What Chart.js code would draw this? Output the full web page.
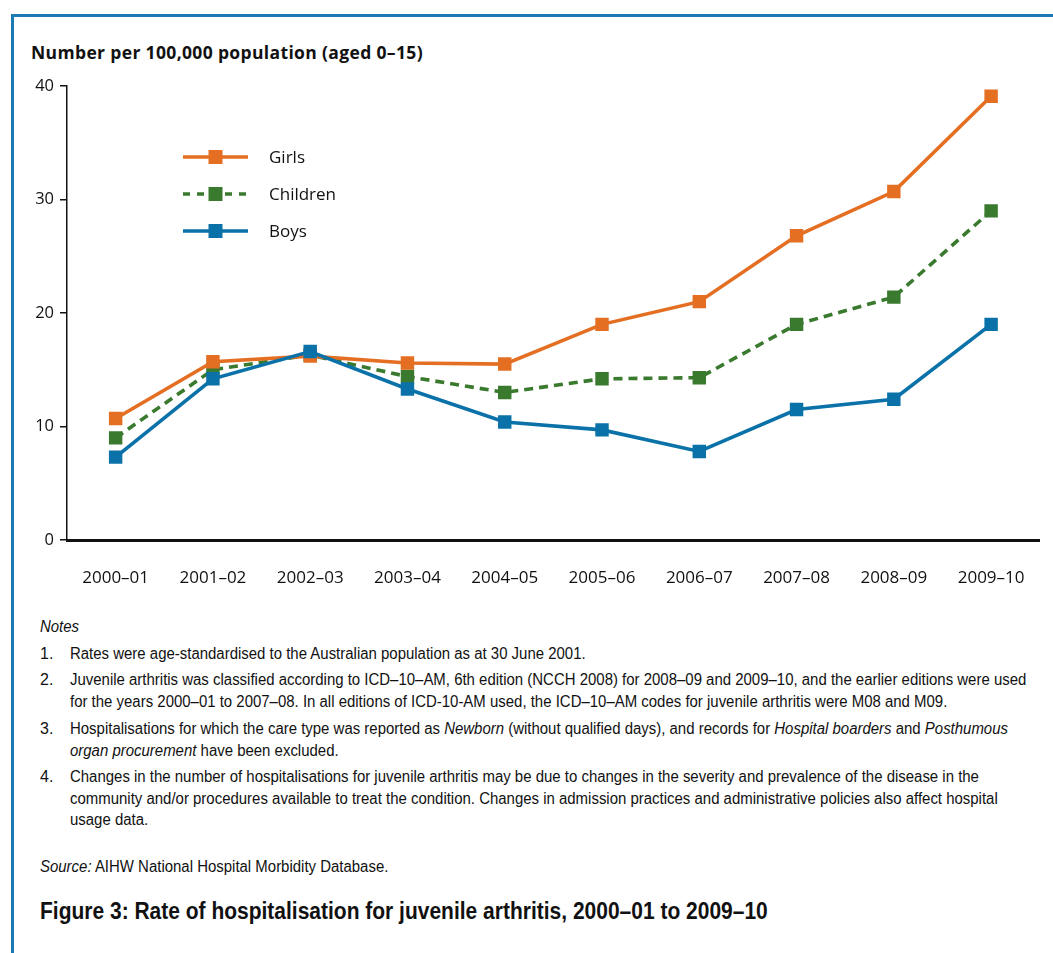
<!DOCTYPE html>
<html><head><meta charset="utf-8">
<script src="https://cdn.jsdelivr.net/npm/chart.js@4"></script>
<style>
html,body{margin:0;padding:0;background:#fff;}
body{width:1053px;height:953px;position:relative;overflow:hidden;font-family:"Liberation Sans",sans-serif;color:#111;}
#frame{position:absolute;left:11px;top:14px;right:-5px;bottom:-5px;border-top:3px solid #1b7ab3;border-left:3px solid #1b7ab3;}
#ytitle{position:absolute;left:31px;top:40px;font:700 17.5px "Open Sans",sans-serif;letter-spacing:0.35px;white-space:nowrap;color:#111;}
#wrap{position:absolute;left:0;top:0;width:1053px;height:600px;}
.p{position:absolute;left:40px;font-size:16px;line-height:21.5px;white-space:nowrap;}
.p .n{position:absolute;left:0;top:0;}
.p .t{position:absolute;left:30px;top:0;}
.s{display:inline-block;transform:scaleX(0.935);transform-origin:0 0;}
#cap{position:absolute;left:40px;top:898px;font:700 23.5px "Liberation Sans",sans-serif;white-space:nowrap;color:#111;transform:scaleX(0.893);transform-origin:0 0;}
</style></head>
<body>
<div id="frame"></div>
<div id="ytitle">Number per 100,000 population (aged 0–15)</div>
<div id="wrap"><canvas id="c" width="1053" height="600"></canvas></div>
<div class="p" style="top:616px"><span class="s"><i>Notes</i></span></div>
<div class="p" style="top:643px"><span class="n">1.</span><span class="t s">Rates were age-standardised to the Australian population as at 30 June 2001.</span></div>
<div class="p" style="top:669px"><span class="n">2.</span><span class="t s">Juvenile arthritis was classified according to ICD–10–AM, 6th edition (NCCH 2008) for 2008–09 and 2009–10, and the earlier editions were used<br>for the years 2000–01 to 2007–08. In all editions of ICD-10-AM used, the ICD–10–AM codes for juvenile arthritis were M08 and M09.</span></div>
<div class="p" style="top:718px"><span class="n">3.</span><span class="t s">Hospitalisations for which the care type was reported as <i>Newborn</i> (without qualified days), and records for <i>Hospital boarders</i> and <i>Posthumous</i><br><i>organ procurement</i> have been excluded.</span></div>
<div class="p" style="top:766px"><span class="n">4.</span><span class="t s">Changes in the number of hospitalisations for juvenile arthritis may be due to changes in the severity and prevalence of the disease in the<br>community and/or procedures available to treat the condition. Changes in admission practices and administrative policies also affect hospital<br>usage data.</span></div>
<div class="p" style="top:856px"><span class="s"><i>Source:</i> AIHW National Hospital Morbidity Database.</span></div>
<div id="cap">Figure 3: Rate of hospitalisation for juvenile arthritis, 2000–01 to 2009–10</div>
<script>
const categories = ['2000–01','2001–02','2002–03','2003–04','2004–05','2005–06','2006–07','2007–08','2008–09','2009–10'];
const girls    = [10.7, 15.7, 16.2, 15.6, 15.5, 19.0, 21.0, 26.8, 30.7, 39.1];
const children = [9.0, 15.0, 16.3, 14.4, 13.0, 14.2, 14.3, 19.0, 21.4, 29.0];
const boys     = [7.3, 14.2, 16.6, 13.3, 10.4, 9.7, 7.8, 11.5, 12.4, 19.0];
const seriesNames = ['Girls','Children','Boys'];
const yTicks = [0, 10, 20, 30, 40];

const ORANGE = '#e46f22', GREEN = '#3a7a2e', BLUE = '#0a72a8';
const TICKFONT = {family:'Open Sans', size:16.5};

const insetLegend = {
  id: 'insetLegend',
  afterDraw(chart, args, opts) {
    const ctx = chart.ctx, a = chart.chartArea;
    ctx.save();
    opts.order.forEach((di, k) => {
      const ds = chart.data.datasets[di];
      const y = a.top + opts.top + k * opts.rowGap;
      const x0 = a.left + opts.left, x1 = x0 + opts.lineLen;
      ctx.strokeStyle = ds.borderColor;
      ctx.lineWidth = ds.borderWidth;
      ctx.setLineDash(ds.borderDash ? [7,7] : []);
      ctx.beginPath(); ctx.moveTo(x0, y); ctx.lineTo(x1, y); ctx.stroke();
      ctx.setLineDash([]);
      ctx.fillStyle = ds.pointBackgroundColor;
      const s = opts.box;
      ctx.fillRect((x0 + x1) / 2 - s / 2, y - s / 2, s, s);
      ctx.fillStyle = '#111';
      ctx.font = '17px "Open Sans"';
      ctx.textBaseline = 'middle';
      ctx.fillText(ds.label, x1 + opts.textGap, y + 1);
    });
    ctx.restore();
  }
};

function mk(label, data, color, dash, order) {
  return {
    label, data, order,
    borderColor: color, backgroundColor: color,
    pointBackgroundColor: color, pointBorderColor: color,
    borderWidth: 3.6, borderDash: dash,
    pointStyle: 'rect', pointRadius: 9.5, pointBorderWidth: 0,
    pointHoverRadius: 9.5, tension: 0, fill: false
  };
}

new Chart(document.getElementById('c'), {
  type: 'line',
  data: {
    labels: categories,
    datasets: [
      mk(seriesNames[0], girls, ORANGE, undefined, 1),
      mk(seriesNames[1], children, GREEN, [9,6], 2),
      mk(seriesNames[2], boys, BLUE, undefined, 0)
    ]
  },
  options: {
    responsive: false,
    animation: false,
    devicePixelRatio: 1,
    layout: {padding: {left: 0, right: 8, top: 86, bottom: 0}},
    plugins: {
      legend: {display: false},
      tooltip: {enabled: false},
      insetLegend: {order: [0,1,2], left: 116, top: 71, rowGap: 37, lineLen: 65, textGap: 21, box: 14}
    },
    scales: {
      x: {
        type: 'category', offset: true,
        grid: {drawOnChartArea: false, drawTicks: false},
        border: {color: '#111', width: 3},
        ticks: {padding: 28, font: {family:'Open Sans', size:17}, color: '#111', maxRotation: 0, autoSkip: false},
        afterFit: s => { s.height = 60; }
      },
      y: {
        min: yTicks[0], max: yTicks[yTicks.length - 1],
        afterBuildTicks: s => { s.ticks = yTicks.map(v => ({value: v})); },
        grid: {drawOnChartArea: false, drawTicks: true, tickLength: 7, color: '#111', lineWidth: 1.5},
        border: {color: '#111', width: 1.5},
        ticks: {padding: 6, font: TICKFONT, color: '#111'},
        afterFit: s => { s.width = 67; }
      }
    }
  },
  plugins: [insetLegend]
});
</script>
</body></html>
